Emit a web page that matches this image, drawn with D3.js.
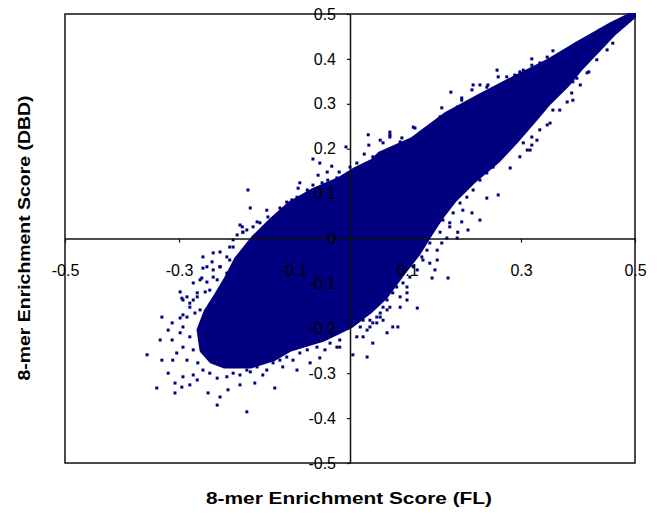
<!DOCTYPE html>
<html>
<head>
<meta charset="utf-8">
<script src="https://cdn.jsdelivr.net/npm/d3@7"></script>
<style>
  body { margin: 0; background: #fff; }
  text { font-family: "Liberation Sans", Arial, sans-serif; }
</style>
</head>
<body>
<script>
// outline of the dense part of the cloud (FL vs DBD score)
const coreFL = [0.500, 0.461, 0.404, 0.346, 0.286, 0.228, 0.170, 0.111, 0.053, 0.040,
  0.012, -0.018, -0.065, -0.105, -0.135, -0.167, -0.198, -0.216, -0.232, -0.251,
  -0.263, -0.258, -0.242, -0.219, -0.175, -0.135, -0.105, -0.047, 0.000, 0.035,
  0.061, 0.088, 0.118, 0.135, 0.158, 0.181, 0.216, 0.258, 0.286, 0.321,
  0.346, 0.381, 0.404, 0.433, 0.461, 0.491];
const coreDBD = [0.500, 0.476, 0.435, 0.391, 0.353, 0.315, 0.275, 0.219, 0.186, 0.170,
  0.153, 0.130, 0.104, 0.075, 0.041, 0.001, -0.048, -0.092, -0.126, -0.164,
  -0.204, -0.248, -0.271, -0.282, -0.282, -0.266, -0.244, -0.222, -0.193, -0.159,
  -0.128, -0.081, -0.032, 0.003, 0.048, 0.086, 0.130, 0.175, 0.213, 0.264,
  0.302, 0.346, 0.382, 0.420, 0.458, 0.491];

// points along the ragged edge of the core
const edgeFL = [0.196, 0.189, 0.163, 0.214, 0.228, 0.240, 0.275, 0.298, 0.311, 0.333,
  0.346, 0.381, 0.398, 0.421, 0.439, 0.114, 0.123, 0.088, 0.070, 0.058,
  0.304, 0.328, 0.368, 0.389, 0.404, 0.416, 0.433, 0.451, 0.461, 0.391,
  0.351, 0.333, 0.298, 0.316,
  0.251, 0.240, 0.228, 0.216, 0.205, 0.193, 0.198, 0.181, 0.175, 0.158,
  0.163, 0.146, 0.140, 0.135, 0.126, 0.153, 0.140, 0.111, 0.105, 0.093,
  0.100, 0.082, 0.065, 0.058, 0.047, 0.035, 0.018, 0.100, 0.088,
  -0.293, -0.281, -0.268, -0.272, -0.286, -0.298, -0.281, -0.293, -0.275, -0.304,
  -0.286, -0.267, -0.258, -0.275, -0.293, -0.246, -0.233, -0.216, -0.205, -0.193,
  -0.181, -0.163, -0.146, -0.135, -0.123, -0.111, -0.088, -0.075, -0.058, -0.035,
  -0.018, 0.012, 0.030, 0.047, 0.058, -0.251, -0.240, -0.263, -0.254,
  -0.023, -0.039, -0.049, -0.075, -0.093, -0.111, -0.118, -0.144, -0.158, -0.170,
  -0.188, -0.198, 0.000, 0.012, 0.040, 0.053,
  -0.205, -0.216, -0.228, -0.216, -0.233, -0.246, -0.268, -0.281, -0.263, -0.298];
const edgeDBD = [0.313, 0.293, 0.271, 0.331, 0.342, 0.337, 0.360, 0.371, 0.364, 0.391,
  0.404, 0.415, 0.435, 0.449, 0.464, 0.246, 0.235, 0.215, 0.226, 0.213,
  0.213, 0.219, 0.286, 0.324, 0.342, 0.369, 0.398, 0.420, 0.435, 0.308,
  0.257, 0.242, 0.182, 0.197,
  0.159, 0.146, 0.130, 0.108, 0.092, 0.079, 0.063, 0.057, 0.026, 0.014,
  0.041, 0.026, -0.010, -0.026, -0.041, -0.048, -0.055, -0.063, -0.086, -0.099,
  -0.121, -0.108, -0.137, -0.153, -0.175, -0.182, -0.197, -0.137, -0.153,
  -0.137, -0.144, -0.130, -0.166, -0.175, -0.210, -0.219, -0.242, -0.248, -0.255,
  -0.271, -0.277, -0.293, -0.304, -0.308, -0.300, -0.311, -0.308, -0.300, -0.304,
  -0.293, -0.286, -0.293, -0.277, -0.271, -0.264, -0.255, -0.248, -0.242, -0.233,
  -0.242, -0.219, -0.204, -0.188, -0.182, -0.063, -0.086, -0.092, -0.119,
  0.135, 0.130, 0.124, 0.097, 0.092, 0.070, 0.059, 0.048, 0.035, 0.026,
  0.014, 0.008, 0.159, 0.168, 0.182, 0.190,
  -0.019, -0.041, -0.063, -0.077, -0.092, -0.115, -0.121, -0.153, -0.159, -0.177];

// scattered 8-mers further out
const pointFL = [0.032, 0.033, 0.025, -0.007, -0.065, -0.053, -0.032, -0.040, -0.056, -0.019,
  -0.088, -0.091, -0.065, -0.075, -0.179, -0.175, -0.146, -0.123, -0.111, -0.102,
  -0.163, -0.189, -0.181, -0.205, -0.211, -0.228, -0.240, -0.258, -0.242, -0.228,
  -0.211, -0.193, 0.070, 0.053, -0.193, -0.188, -0.258, -0.240, -0.260, -0.251,
  -0.298, -0.286, -0.275, -0.330, -0.293, -0.295, -0.275, -0.312, -0.319, -0.293,
  -0.333, -0.312, -0.356, -0.330, -0.319, -0.311, -0.339, -0.307, -0.307, -0.295,
  -0.281, -0.268, -0.249, -0.228, -0.233, -0.214, -0.181, -0.193, -0.167, -0.132,
  -0.153, -0.175, -0.118, -0.093, -0.100, -0.070, -0.053, -0.044, -0.023, -0.018,
  0.030, 0.005, 0.023, 0.040, 0.035, 0.065, 0.053, 0.065, 0.281, 0.260,
  0.240, 0.228, 0.207, 0.189, 0.214, 0.196, 0.188, 0.170, 0.175, 0.153,
  0.161, 0.172, 0.144, 0.149, 0.128, 0.118, 0.100, 0.088, 0.118, 0.075,
  0.070, 0.053, 0.075, 0.084, 0.040, 0.023, 0.356, 0.319, 0.319, 0.419,
  0.381, 0.346, 0.319, 0.319, 0.311, 0.258, 0.260, 0.289, 0.304, 0.177,
  0.216, 0.242, 0.196, 0.161, 0.158, 0.111, 0.135, 0.070, 0.091, 0.391,
  0.398, 0.356, 0.333];
const pointDBD = [0.231, 0.208, 0.188, 0.204, 0.177, 0.168, 0.161, 0.148, 0.141, 0.148,
  0.124, 0.112, 0.119, 0.108, 0.108, 0.068, 0.063, 0.068, 0.081, 0.086,
  0.037, 0.026, 0.019, -0.003, -0.019, -0.030, -0.032, -0.041, -0.052, -0.063,
  -0.048, -0.055, 0.231, 0.219, 0.030, 0.014, -0.066, -0.070, -0.088, -0.097,
  -0.119, -0.130, -0.137, -0.175, -0.170, -0.133, -0.099, -0.188, -0.204, -0.197,
  -0.226, -0.226, -0.259, -0.271, -0.300, -0.271, -0.333, -0.322, -0.344, -0.331,
  -0.326, -0.315, -0.344, -0.353, -0.371, -0.337, -0.386, -0.326, -0.322, -0.333,
  -0.304, -0.297, -0.286, -0.293, -0.271, -0.277, -0.266, -0.248, -0.242, -0.226,
  -0.264, -0.259, -0.219, -0.233, -0.197, -0.210, -0.175, -0.159, 0.157, 0.097,
  0.090, 0.041, 0.019, 0.014, 0.057, 0.037, 0.001, 0.001, 0.035, -0.026,
  -0.010, -0.088, -0.088, -0.070, -0.048, -0.070, -0.108, -0.130, -0.155, -0.121,
  -0.153, -0.166, -0.197, -0.197, -0.188, -0.182, 0.418, 0.400, 0.386, 0.371,
  0.304, 0.253, 0.226, 0.208, 0.197, 0.375, 0.360, 0.364, 0.375, 0.326,
  0.342, 0.342, 0.308, 0.291, 0.271, 0.248, 0.242, 0.237, 0.224, 0.349,
  0.357, 0.286, 0.280];

const xTicks = [-0.5, -0.3, -0.1, 0.1, 0.3, 0.5];
const yTicks = [0.5, 0.4, 0.3, 0.2, 0.1, 0, -0.1, -0.2, -0.3, -0.4, -0.5];

let width = 658;
let height = 516;
let navy = "#000080";

let svg = d3.select("body").append("svg")
  .attr("width", width)
  .attr("height", height);

let x = d3.scaleLinear().domain([-0.5, 0.5]).range([65, 635]);
let y = d3.scaleLinear().domain([-0.5, 0.5]).range([463, 14]);

let fmt = (d) => String(Math.round(d * 10) / 10);

svg.append("clipPath")
  .attr("id", "plot-clip")
  .append("rect")
  .attr("x", x(-0.5))
  .attr("y", y(0.5) - 1)
  .attr("width", x(0.5) - x(-0.5) + 1)
  .attr("height", y(-0.5) - y(0.5) + 1);

// frame
svg.append("rect")
  .attr("x", x(-0.5))
  .attr("y", y(0.5))
  .attr("width", x(0.5) - x(-0.5))
  .attr("height", y(-0.5) - y(0.5))
  .attr("fill", "none")
  .attr("stroke", "#111")
  .attr("stroke-width", 1.5);

// dense core (thick stroke stands in for the crowded markers on its rim)
let core = coreFL.map((v, i) => [v, coreDBD[i]]);
svg.append("path")
  .datum(core)
  .attr("clip-path", "url(#plot-clip)")
  .attr("d", d3.line().x(d => x(d[0])).y(d => y(d[1])).curve(d3.curveLinearClosed))
  .attr("fill", navy)
  .attr("stroke", navy)
  .attr("stroke-width", 7)
  .attr("stroke-linejoin", "round");

// single points: ragged edge + outliers
let pts = edgeFL.map((v, i) => [v, edgeDBD[i]])
  .concat(pointFL.map((v, i) => [v, pointDBD[i]]));
svg.selectAll("rect.pt")
  .data(pts)
  .enter()
  .append("rect")
  .classed("pt", true)
  .attr("x", d => x(d[0]) - 1.5)
  .attr("y", d => y(d[1]) - 1.5)
  .attr("width", 3)
  .attr("height", 3)
  .attr("fill", navy);

// x axis through y = 0
let xAxis = svg.append("g")
  .attr("transform", `translate(0,${y(0)})`)
  .call(d3.axisBottom(x).tickValues(xTicks).tickFormat(fmt).tickSize(4).tickPadding(22).tickSizeOuter(0));

// y axis through x = 0
let yAxis = svg.append("g")
  .attr("transform", `translate(${x(0)},0)`)
  .call(d3.axisLeft(y).tickValues(yTicks).tickFormat(fmt).tickSize(3).tickPadding(11).tickSizeOuter(0));

[xAxis, yAxis].forEach(g => {
  g.select(".domain").attr("stroke", "#111").attr("stroke-width", 1.5);
  g.selectAll(".tick line").attr("stroke", "#111").attr("stroke-width", 1.2);
  g.selectAll(".tick text")
    .attr("fill", "#000")
    .style("font-size", "16px")
    .style("font-family", "'Liberation Sans', Arial, sans-serif");
});

// axis titles
svg.append("text")
  .attr("x", 349)
  .attr("y", 504)
  .attr("text-anchor", "middle")
  .attr("textLength", 286)
  .attr("lengthAdjust", "spacingAndGlyphs")
  .style("font-size", "17px")
  .style("font-weight", "bold")
  .text("8-mer Enrichment Score (FL)");

svg.append("text")
  .attr("transform", `translate(30,238) rotate(-90)`)
  .attr("text-anchor", "middle")
  .attr("textLength", 285)
  .attr("lengthAdjust", "spacingAndGlyphs")
  .style("font-size", "17px")
  .style("font-weight", "bold")
  .text("8-mer Enrichment Score (DBD)");
</script>
</body>
</html>
